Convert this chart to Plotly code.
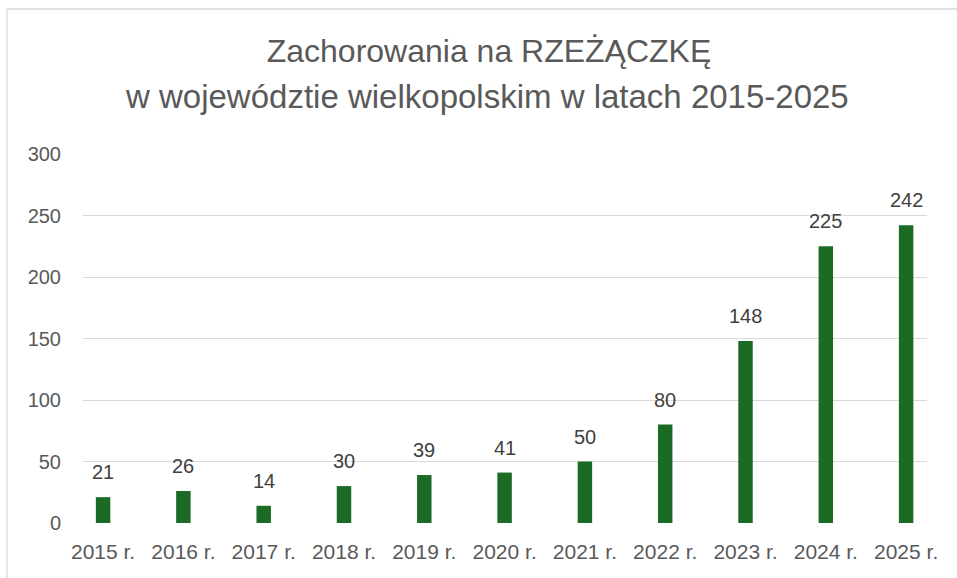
import plotly.graph_objects as go

categories = ["2015 r.", "2016 r.", "2017 r.", "2018 r.", "2019 r.", "2020 r.",
              "2021 r.", "2022 r.", "2023 r.", "2024 r.", "2025 r."]
cases = [21, 26, 14, 30, 39, 41, 50, 80, 148, 225, 242]
y_ticks = [0, 50, 100, 150, 200, 250, 300]

title_line1 = "Zachorowania na RZEŻĄCZKĘ"
title_line2 = "w województie wielkopolskim w latach 2015-2025"

BAR = "#1b6b24"
FONT = "Liberation Sans"

W, H = 957, 578
L, R, T, B = 83, 30, 154, 55
PW, PH = W - L - R, H - T - B


def px_x(x):
    return (x - L) / PW


def px_y(y):
    return (H - B - y) / PH


fig = go.Figure()
fig.add_trace(go.Bar(
    x=categories, y=cases, width=0.18,
    marker=dict(color=BAR, line=dict(width=0)),
    hoverinfo="x+y",
))

annotations = []
for c, v in zip(categories, cases):
    annotations.append(dict(
        x=c, y=v, xref="x", yref="y", text=str(v), showarrow=False,
        yanchor="bottom", yshift=12,
        font=dict(family=FONT, size=20, color="#404040"),
    ))
annotations.append(dict(
    x=px_x(487), y=px_y(96), xref="paper", yref="paper",
    text=title_line2, showarrow=False, xanchor="center", yanchor="middle",
    font=dict(family=FONT, size=33, color="#595959"),
))

fig.update_layout(
    width=W, height=H,
    margin=dict(l=L, r=R, t=T, b=B),
    paper_bgcolor="white", plot_bgcolor="white",
    showlegend=False,
    title=dict(
        text=title_line1,
        x=489 / W, xanchor="center", xref="container",
        y=1 - 51 / H, yanchor="middle", yref="container",
        font=dict(family=FONT, size=32, color="#595959"),
    ),
    annotations=annotations,
    xaxis=dict(
        type="category", range=[-0.25, 10.26],
        showgrid=False, zeroline=False, showline=False, ticks="",
        tickfont=dict(family=FONT, size=21, color="#595959"),
        ticklabelstandoff=14,
    ),
    yaxis=dict(
        range=[0, 300], tickvals=y_ticks,
        showgrid=True, gridcolor="#d9d9d9", gridwidth=1.3,
        zeroline=False, showline=False, ticks="",
        tickfont=dict(family=FONT, size=20, color="#595959"),
        ticklabelstandoff=21,
    ),
    shapes=[
        dict(type="line", xref="paper", yref="paper",
             x0=px_x(7), x1=px_x(W + 20),
             y0=px_y(9), y1=px_y(9),
             line=dict(color="#d9d9d9", width=1.3)),
        dict(type="line", xref="paper", yref="paper",
             x0=px_x(7), x1=px_x(7),
             y0=px_y(9), y1=px_y(H + 20),
             line=dict(color="#d9d9d9", width=1.3)),
    ],
)

fig.write_html("out.html", config={"displayModeBar": False},
               post_script="document.body.style.margin='0';document.body.style.overflow='hidden';")
